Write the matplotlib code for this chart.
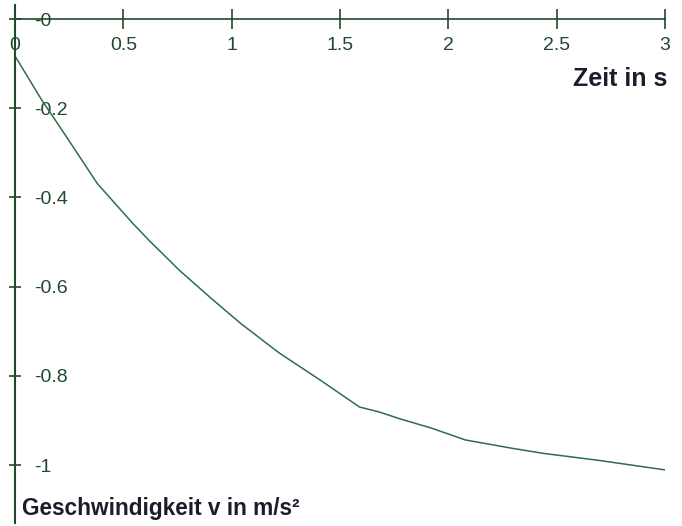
import matplotlib
matplotlib.use("Agg")
import matplotlib.pyplot as plt
from matplotlib.ticker import FixedLocator, FixedFormatter

# Data
t = [0, 0.125, 0.21, 0.38, 0.545, 0.62, 0.76, 0.9, 1.04, 1.22, 1.41, 1.59,
     1.68, 1.78, 1.92, 2.08, 2.3, 2.44, 2.7, 3.0]
v = [-0.083, -0.183, -0.244, -0.369, -0.459, -0.497, -0.564, -0.624, -0.682,
     -0.749, -0.81, -0.87, -0.881, -0.897, -0.917, -0.944, -0.963, -0.974,
     -0.99, -1.011]

x_ticks = [0, 0.5, 1, 1.5, 2, 2.5, 3]
x_tick_labels = ["0", "0.5", "1", "1.5", "2", "2.5", "3"]
y_ticks = [0, -0.2, -0.4, -0.6, -0.8, -1]
y_tick_labels = ["-0", "-0.2", "-0.4", "-0.6", "-0.8", "-1"]

x_label = "Zeit in s"
y_label = "Geschwindigkeit v in m/s²"

axis_color = "#1f4a2c"
line_color = "#2f6e48"
text_color = "#1a1d2a"

plt.rcParams['font.family'] = ['Liberation Sans', 'DejaVu Sans']

fig = plt.figure(figsize=(6.82, 5.26), dpi=100)
ax = fig.add_axes([15 / 682, 3 / 526, 650 / 682, 518 / 526])
ax.set_xlim(0, 3)
ax.set_ylim(-(523 - 19) / 446, (19 - 5) / 446)

ax.plot(t, v, color=line_color, lw=1.1)

for s in ("top", "right"):
    ax.spines[s].set_visible(False)
ax.spines["bottom"].set_position(("data", 0))
ax.spines["bottom"].set_color(axis_color)
ax.spines["left"].set_color(axis_color)
ax.spines["bottom"].set_linewidth(1.2)
ax.spines["left"].set_linewidth(1.5)

ax.xaxis.set_major_locator(FixedLocator(x_ticks))
ax.xaxis.set_major_formatter(FixedFormatter(x_tick_labels))
ax.yaxis.set_major_locator(FixedLocator(y_ticks))
ax.yaxis.set_major_formatter(FixedFormatter(y_tick_labels))

ax.tick_params(axis="x", direction="inout", length=14, width=1.2,
               color=axis_color, labelcolor=axis_color, labelsize=14, pad=6)
ax.tick_params(axis="y", direction="inout", length=9, width=1.2,
               color=axis_color, labelcolor=axis_color, labelsize=14, pad=-18)
for i, lab in enumerate(ax.get_yticklabels()):
    lab.set_horizontalalignment("left")
    if i == 0:
        lab.set_backgroundcolor("white")

ax.text(667 / 682, 1 - 79 / 526, x_label, transform=fig.transFigure,
        ha="right", va="center", fontsize=18, fontweight="bold", color=text_color)
ax.text(22 / 682, 1 - 508 / 526, y_label, transform=fig.transFigure,
        ha="left", va="center", fontsize=16.3, fontweight="bold", color=text_color)

fig.savefig("out.png", dpi=100)
